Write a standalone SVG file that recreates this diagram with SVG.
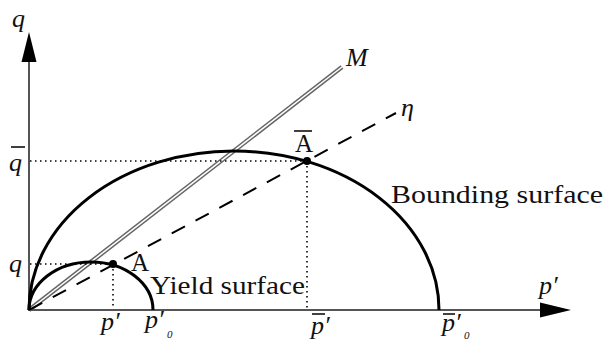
<svg xmlns="http://www.w3.org/2000/svg" width="607" height="341" viewBox="0 0 607 341">
<style>
.axis{stroke:#555;stroke-width:2;fill:none}
.surf{stroke:#000;stroke-width:3;fill:none}
.dot{stroke:#000;stroke-width:1.6;stroke-dasharray:1.5 3.5;fill:none}
.lbl{font-family:"Liberation Serif","DejaVu Serif",serif;font-size:25px;fill:#111}
.it{font-family:"Liberation Serif","DejaVu Serif",serif;font-style:italic;font-size:26px;fill:#111}
.sub{font-family:"Liberation Serif","DejaVu Serif",serif;font-style:italic;font-size:11px;fill:#111}
</style>
<rect width="607" height="341" fill="#fff"/>
<g id="connectors">
  <line class="axis" x1="29" y1="311" x2="29" y2="58"/>
  <polygon points="29,32 21.5,62 36.5,62" fill="#000"/>
  <line class="axis" x1="28" y1="310" x2="545" y2="310"/>
  <polygon points="571,310 540,302.5 540,317.5" fill="#000"/>
  <line x1="29" y1="310" x2="342" y2="67" stroke="#666" stroke-width="4.5"/>
  <line x1="29" y1="310" x2="342" y2="67" stroke="#fff" stroke-width="1.5"/>
  <line x1="29" y1="310" x2="396" y2="113" stroke="#000" stroke-width="2" stroke-dasharray="15 12"/>
  <line class="dot" x1="30" y1="161" x2="307" y2="161"/>
  <line class="dot" x1="307" y1="161" x2="307" y2="309"/>
  <line class="dot" x1="30" y1="264" x2="113" y2="264"/>
  <line class="dot" x1="113" y1="264" x2="113" y2="309"/>
</g>
<g id="bounding-surface">
  <path class="surf" d="M29 310 A205 159 0 0 1 439 310"/>
  <text class="lbl" x="391" y="203" textLength="212" lengthAdjust="spacingAndGlyphs">Bounding surface</text>
</g>
<g id="yield-surface">
  <path class="surf" d="M29 310 A62 48 0 0 1 153 310"/>
  <text class="lbl" x="150" y="294" textLength="155" lengthAdjust="spacingAndGlyphs">Yield surface</text>
</g>
<g id="point-Abar">
  <circle cx="307" cy="161" r="4" fill="#000"/>
  <text class="lbl" x="295" y="152">A</text>
  <line x1="294" y1="131" x2="312" y2="131" stroke="#111" stroke-width="1.6"/>
</g>
<g id="point-A">
  <circle cx="113" cy="264" r="4" fill="#000"/>
  <text class="lbl" x="131" y="271">A</text>
</g>
<g id="labels">
  <text class="it" x="12" y="27">q</text>
  <text class="it" x="9" y="171">q</text>
  <line x1="11" y1="147" x2="25" y2="147" stroke="#111" stroke-width="1.6"/>
  <text class="it" x="9" y="272">q</text>
  <text class="it" x="346" y="66">M</text>
  <text class="it" x="401" y="116">η</text>
  <text class="it" x="539" y="294">p′</text>
  <text class="it" x="101" y="330">p′</text>
  <text class="it" x="145" y="328">p′</text>
  <text class="sub" x="167" y="338">0</text>
  <text class="it" x="311" y="334">p′</text>
  <line x1="312" y1="314" x2="325" y2="314" stroke="#111" stroke-width="1.6"/>
  <text class="it" x="442" y="331">p′</text>
  <line x1="443" y1="314" x2="455" y2="314" stroke="#111" stroke-width="1.6"/>
  <text class="sub" x="464" y="339">0</text>
</g>
</svg>
